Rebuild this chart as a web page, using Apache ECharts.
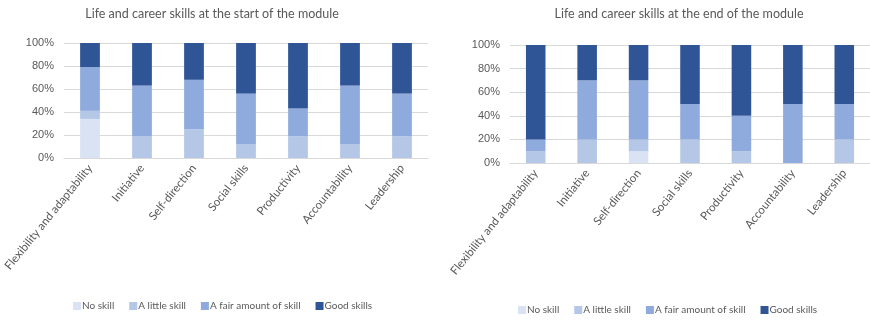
<!DOCTYPE html>
<html>
<head>
<meta charset="utf-8">
<script src="https://cdn.jsdelivr.net/npm/echarts@6/dist/echarts.min.js"></script>
<style>
  html, body { margin: 0; padding: 0; background: #fff; }
  #chart { width: 870px; height: 320px; }
</style>
</head>
<body>
<div id="chart"></div>
<script>
// categories and skill levels
var categories = ['Flexibility and adaptability', 'Initiative', 'Self-direction', 'Social skills', 'Productivity', 'Accountability', 'Leadership'];
var levels = ['No skill', 'A little skill', 'A fair amount of skill', 'Good skills'];
var yTicks = ['0%', '20%', '40%', '60%', '80%', '100%'];

// start of module (%)
var startNoSkill = [34, 0, 0, 0, 0, 0, 0];
var startLittle  = [7, 19, 25, 12, 19, 12, 19];
var startFair    = [38, 44, 43, 44, 24, 51, 37];
var startGood    = [21, 37, 32, 44, 57, 37, 44];

// end of module (%)
var endNoSkill = [0, 0, 10, 0, 0, 0, 0];
var endLittle  = [10, 20, 10, 20, 10, 0, 20];
var endFair    = [10, 50, 50, 30, 30, 50, 30];
var endGood    = [80, 30, 30, 50, 60, 50, 50];

var colors = ['#dae3f3', '#b4c7e7', '#8faadc', '#2f5597'];
var txt = '#595959';
var lblFont = 'Lato, "Open Sans", sans-serif';

var chart = echarts.init(document.getElementById('chart'));

function xAxis(idx) {
    return {
        type: 'category', gridIndex: idx, data: categories,
        axisLine: { lineStyle: { color: '#d9d9d9' } },
        axisTick: { show: false },
        axisLabel: { rotate: 51, color: txt, fontSize: 11.5, fontFamily: lblFont, margin: 8, interval: 0 }
    };
}
function yAxis(idx) {
    return {
        type: 'value', gridIndex: idx, min: 0, max: 100, interval: 20,
        axisLine: { show: false }, axisTick: { show: false },
        splitLine: { lineStyle: { color: '#d9d9d9' } },
        axisLabel: {
            color: txt, fontSize: 11, fontFamily: '"Liberation Sans", Arial, sans-serif', margin: 10,
            formatter: function (v) { return yTicks[v / 20]; }
        }
    };
}
function bar(name, data, idx, c) {
    return {
        name: name, type: 'bar', stack: 's' + idx, xAxisIndex: idx, yAxisIndex: idx,
        data: data, barWidth: '38%', itemStyle: { color: c }
    };
}
function legendItems() {
    return levels.map(function (n, i) { return { name: n, itemStyle: { color: colors[i] } }; });
}

var legendStyle = { color: txt, fontSize: 10, fontFamily: lblFont, padding: [0, 0, 0, -4] };

var option = {
    animation: false,
    title: [
        { text: 'Life and career skills at the start of the module', left: 207, top: 2, textAlign: 'center',
          textStyle: { color: txt, fontSize: 12.5, fontWeight: 'normal', fontFamily: lblFont } },
        { text: 'Life and career skills at the end of the module', left: 674, top: 2, textAlign: 'center',
          textStyle: { color: txt, fontSize: 12.5, fontWeight: 'normal', fontFamily: lblFont } }
    ],
    legend: [
        { data: legendItems(), left: 68, top: 296, itemWidth: 8, itemHeight: 8, itemGap: 15, icon: 'rect',
          textStyle: legendStyle, selectedMode: false },
        { data: legendItems(), left: 513, top: 300, itemWidth: 8, itemHeight: 8, itemGap: 15, icon: 'rect',
          textStyle: legendStyle, selectedMode: false }
    ],
    grid: [
        { left: 64, top: 43, width: 364, height: 115 },
        { left: 510, top: 45, width: 362, height: 118 }
    ],
    xAxis: [xAxis(0), xAxis(1)],
    yAxis: [yAxis(0), yAxis(1)],
    series: [
        bar(levels[0], startNoSkill, 0, colors[0]),
        bar(levels[1], startLittle, 0, colors[1]),
        bar(levels[2], startFair, 0, colors[2]),
        bar(levels[3], startGood, 0, colors[3]),
        bar(levels[0], endNoSkill, 1, colors[0]),
        bar(levels[1], endLittle, 1, colors[1]),
        bar(levels[2], endFair, 1, colors[2]),
        bar(levels[3], endGood, 1, colors[3])
    ]
};
chart.setOption(option);
</script>
</body>
</html>
